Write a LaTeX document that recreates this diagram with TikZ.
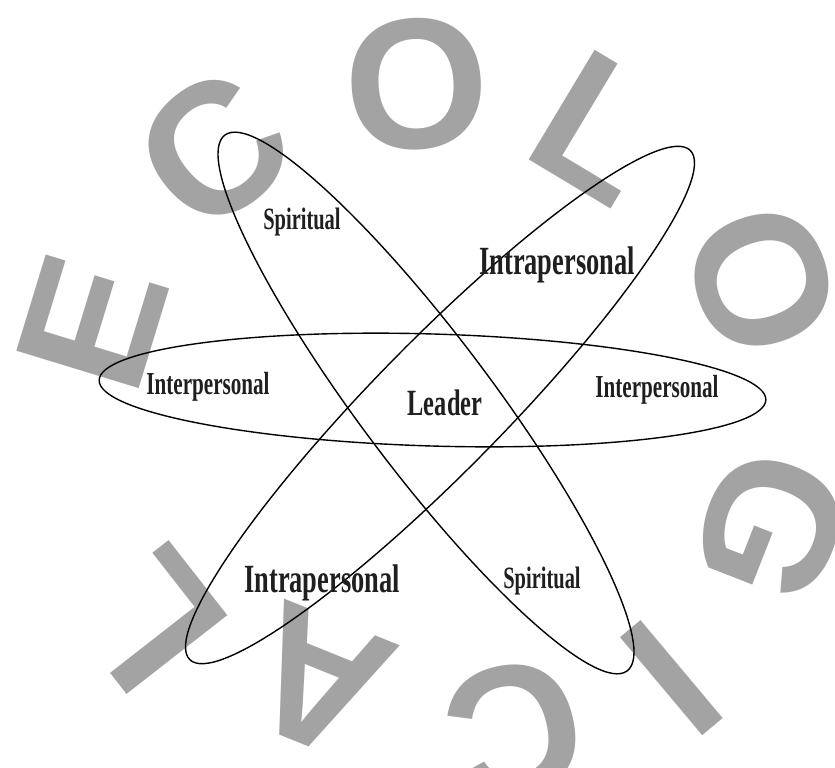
\documentclass[tikz,border=0pt]{standalone}
\usepackage{fontspec}
\newfontfamily\letterfont{Liberation Sans}
\newfontfamily\labelfont[FakeStretch=0.66]{Liberation Serif}
\usetikzlibrary{shapes.geometric}

\begin{document}
\begin{tikzpicture}[x=1pt, y=-1pt,
  letter/.style={inner sep=0pt, text=black!36, font=\letterfont\bfseries\fontsize{186}{186}\selectfont},
  orbit/.style={ellipse, draw=black, line width=1.4pt, inner sep=0pt},
  word/.style={inner sep=0pt, text=black!88, font=\labelfont\bfseries\fontsize{#1}{#1}\selectfont},
  word/.default=32]
  \useasboundingbox (0,0) rectangle (835,768);

  % the word ECOLOGICAL round the picture
  \node[letter, rotate=73] (e1) at (92,322) {E};
  \node[letter, rotate=40] (c1) at (214,150) {C};
  \node[letter, rotate=3.5] (o1) at (417,84) {O};
  \node[letter, rotate=-31] (l1) at (600,128) {L};
  \node[letter, rotate=-70.6] (o2) at (762,280) {O};
  \node[letter, rotate=-111.4] (g1) at (772,527) {G};
  \node[letter, rotate=-140] (i1) at (672,678) {I};
  \node[letter, rotate=-166.6] (c2) at (515,730) {C};
  \node[letter, rotate=158] (a1) at (318,682) {A};
  \node[letter, rotate=128] (l2) at (150,620) {L};

  % three orbits
  \node[orbit, minimum width=667pt, minimum height=112pt, rotate=-1.7] (orbitH) at (432.5,390) {};
  \node[orbit, minimum width=670pt, minimum height=132pt, rotate=126.9] (orbitS) at (426,403) {};
  \node[orbit, minimum width=714pt, minimum height=130pt, rotate=45.5] (orbitI) at (440,405) {};

  % labels
  \node[word=37] (leader) at (445,403) {Leader};
  \node[word=31] (spiritA) at (302,222) {Spiritual};
  \node[word=31] (spiritB) at (542,581) {Spiritual};
  \node[word=32] (interA) at (208,387) {Interpersonal};
  \node[word=32] (interB) at (657,390) {Interpersonal};
  \node[word=40] (intraA) at (557,265) {Intrapersonal};
  \node[word=40] (intraB) at (322,583) {Intrapersonal};
\end{tikzpicture}
\end{document}
